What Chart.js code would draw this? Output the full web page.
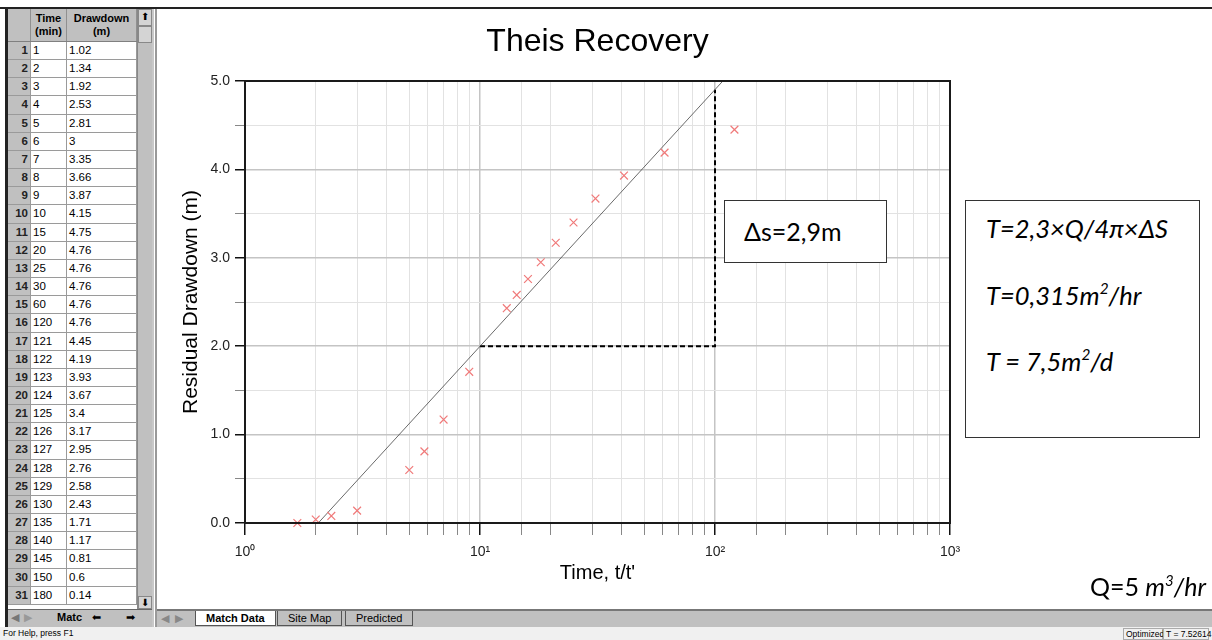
<!DOCTYPE html>
<html>
<head>
<meta charset="utf-8">
<script src="https://cdn.jsdelivr.net/npm/chart.js@4"></script>
<style>
body {margin: 0; width: 1212px; height: 640px; position: relative; overflow: hidden; background: #fff; font-family: "Liberation Sans", Arial, sans-serif;}
.abs {position: absolute;}
#topline {left: 0; top: 7px; width: 1212px; height: 2px; background: #222;}
#leftline {left: 5px; top: 9px; width: 3px; height: 618px; background: #222;}
#grid {left: 8px; top: 9px; width: 129px; font-size: 11px; color: #000;}
#grid .hdr {display: flex; height: 33px; background: #c0c0c0; border-bottom: 1px solid #808080; box-sizing: border-box; font-weight: bold;}
#grid .hdr div {text-align: center; line-height: 13px; padding-top: 3px; box-sizing: border-box; border-right: 1px solid #909090;}
#grid .row {display: flex; height: 18.17px; box-sizing: border-box; border-bottom: 1px solid #9a9a9a;}
#grid .row div {box-sizing: border-box; line-height: 17px; padding-left: 2px; border-right: 1px solid #9a9a9a; background: #fff; font-size: 11.5px;}
#grid .row div.num {background: #c0c0c0; font-weight: bold; text-align: right; padding-right: 2px; color: #222;}
.c0 {width: 23px;} .c1 {width: 36px;} .c2 {width: 70px;}
#vscroll {left: 137px; top: 9px; width: 15px; height: 600px; background: #c0c0c0; border-left: 1px solid #888; box-sizing: border-box;}
.btn {position: absolute; background: #d4d4d4; border: 1px solid #888; box-sizing: border-box; font-size: 10px; text-align: center; line-height: 14px;}
#divider {left: 152px; top: 9px; width: 5px; height: 618px; background: #fff; border-left: 2px solid #c8c8c8; border-right: 2px solid #999; box-sizing: border-box;}
#ltabs {left: 8px; top: 609px; width: 144px; height: 18px; background: #c0c0c0; border-top: 1px solid #666; box-sizing: border-box; font-size: 11px;}
#tabs {left: 157px; top: 609px; width: 1055px; height: 18px; background: #c0c0c0; border-top: 2px solid #777; box-sizing: border-box; font-size: 11px;}
.tab {position: absolute; top: 0; height: 15px; line-height: 15px; padding: 0 10px; border-bottom: 1px solid #555; border-left: 1px solid #555; border-right: 1px solid #555; box-sizing: border-box;}
#status {left: 0; top: 627px; width: 1212px; height: 13px; background: #f0f0f0; font-size: 8.5px; line-height: 13px;}
.sbox {position: absolute; top: 1px; height: 12px; border: 1px solid #aaa; box-sizing: border-box; font-size: 8.5px; line-height: 10px; padding: 0 2px; white-space: nowrap;}
#plot {left: 158px; top: 10px;}
#title {left: 245px; width: 705px; top: 20px; text-align: center; font-size: 32px; line-height: 40px; color: #000;}
.note {font-family: Lato, "Open Sans", sans-serif; color: #000;}
#dsbox {left: 724px; top: 200px; width: 163px; height: 63px; border: 1px solid #333; background: #fff; box-sizing: border-box; font-size: 25px; line-height: 60px; padding-left: 19px;}
#tbox {left: 965px; top: 200px; width: 235px; height: 238px; border: 1px solid #333; background: #fff; box-sizing: border-box; font-size: 25.5px; font-style: italic;}
#tbox div {position: absolute; left: 20px;}
#qtext {left: 1000px; width: 206px; top: 569px; text-align: right; font-size: 25px; line-height: 34px;}
sup {font-size: 0.6em; vertical-align: 0.7em; line-height: 0;}
</style>
</head>
<body>
<div class="abs" id="topline"></div>
<div class="abs" id="grid"></div>
<div class="abs" id="leftline"></div>
<div class="abs" id="vscroll">
	<div class="btn" style="left:0;top:0;width:14px;height:17px">&#x2B06;</div>
	<div class="btn" style="left:0;top:17px;width:14px;height:17px"></div>
	<div class="btn" style="left:0;top:587px;width:14px;height:13px;line-height:11px">&#x2B07;</div>
</div>
<div class="abs" id="divider"></div>
<div class="abs" id="ltabs">
	<span style="position:absolute;left:3px;top:1px;color:#777">&#x25C0;</span>
	<span style="position:absolute;left:16px;top:1px;color:#999">&#x25B6;</span>
	<span style="position:absolute;left:49px;top:1px;font-weight:bold">Matc</span>
	<span style="position:absolute;left:84px;top:1px">&#x2B05;</span>
	<span style="position:absolute;left:118px;top:1px">&#x27A1;</span>
</div>
<div class="abs" id="tabs">
	<span style="position:absolute;left:4px;top:1px;color:#888">&#x25C0;</span>
	<span style="position:absolute;left:18px;top:1px;color:#888">&#x25B6;</span>
	<div class="tab" style="left:38px;background:#fff;font-weight:bold">Match Data</div>
	<div class="tab" style="left:120px">Site Map</div>
	<div class="tab" style="left:188px">Predicted</div>
</div>
<div class="abs" id="status">
	<span style="position:absolute;left:3px">For Help, press F1</span>
	<div class="sbox" style="left:1123px;width:40px">Optimized</div>
	<div class="sbox" style="left:1163px;width:46px">T = 7.52614</div>
</div>
<canvas class="abs" id="plot" width="1054" height="597"></canvas>
<div class="abs" id="title">Theis Recovery</div>
<div class="abs note" id="dsbox">Δs=2,9m</div>
<div class="abs note" id="tbox">
	<div style="top:12px">T=2,3×Q/4π×ΔS</div>
	<div style="top:79px">T=0,315m<sup>2</sup>/hr</div>
	<div style="top:145px">T = 7,5m<sup>2</sup>/d</div>
</div>
<div class="abs note" id="qtext">Q=5 <i>m<sup>3</sup>/hr</i></div>
<script>
//Pumping test table (left panel)
const tableTime = ["1", "2", "3", "4", "5", "6", "7", "8", "9", "10", "15", "20", "25", "30", "60", "120",
	"121", "122", "123", "124", "125", "126", "127", "128", "129", "130", "135", "140", "145", "150", "180"];
const tableDrawdown = ["1.02", "1.34", "1.92", "2.53", "2.81", "3", "3.35", "3.66", "3.87", "4.15", "4.75", "4.76", "4.76", "4.76", "4.76", "4.76",
	"4.45", "4.19", "3.93", "3.67", "3.4", "3.17", "2.95", "2.76", "2.58", "2.43", "1.71", "1.17", "0.81", "0.6", "0.14"];

//Recovery plot: t/t' against residual drawdown
const ratioTT = [121, 61, 41, 31, 25, 21, 18.14, 16, 14.33, 13, 9, 7, 5.8, 5, 3, 2.33, 2, 1.67];
const residual = [4.45, 4.19, 3.93, 3.67, 3.4, 3.17, 2.95, 2.76, 2.58, 2.43, 1.71, 1.17, 0.81, 0.6, 0.14, 0.08, 0.04, 0];
//Straight-line match
const fitX = [2.05, 108];
const fitY = [0, 5];
//Construction lines for delta s over one log cycle
const deltaX = [10, 100, 100];
const deltaY = [2.0, 2.0, 4.9];
const xTickLabels = {1: "10⁰", 10: "10¹", 100: "10²", 1000: "10³"};

const grid = document.getElementById("grid");
grid.innerHTML = '<div class="hdr"><div class="c0"></div><div class="c1">Time<br>(min)</div><div class="c2">Drawdown<br>(m)</div></div>'
	+ tableTime.map((t, i) => '<div class="row"><div class="c0 num">' + (i + 1) + '</div><div class="c1">' + t
		+ '</div><div class="c2">' + tableDrawdown[i] + '</div></div>').join("");

const pts = (xs, ys) => xs.map((x, i) => ({x, y: ys[i]}));
const isDecade = v => Math.abs(Math.log10(v) - Math.round(Math.log10(v))) < 1e-6;

//Heavy box round the plot area
const frame = {
	id: "frame",
	afterDraw(chart) {
		const {ctx, chartArea: a} = chart;
		ctx.save();
		ctx.strokeStyle = "#1a1a1a";
		ctx.lineWidth = 2;
		ctx.strokeRect(a.left, a.top, a.right - a.left, a.bottom - a.top);
		ctx.restore();
	},
};

const font = {family: "'Liberation Sans', Arial, sans-serif"};
new Chart(document.getElementById("plot"), {
	type: "scatter",
	data: {datasets: [
		{
			label: "Observed", data: pts(ratioTT, residual),
			pointStyle: "crossRot", pointRadius: 5.5, borderColor: "#f07a7a", borderWidth: 1.2, clip: false,
		},
		{
			type: "line", label: "Match", data: pts(fitX, fitY),
			borderColor: "#444", borderWidth: 0.8, pointRadius: 0,
		},
		{
			type: "line", label: "Delta s", data: pts(deltaX, deltaY),
			borderColor: "#000", borderWidth: 2, borderDash: [5, 3], pointRadius: 0,
		},
	]},
	options: {
		responsive: false,
		animation: false,
		layout: {padding: {top: 71, right: 262, bottom: 22, left: 0}},
		plugins: {legend: {display: false}, tooltip: {enabled: false}},
		scales: {
			x: {
				type: "logarithmic", min: 1, max: 1000,
				afterFit: s => {s.height = 62;},
				border: {display: false},
				grid: {
					color: c => isDecade(c.tick.value) ? "#c4c4c4" : "#e2e2e2",
					lineWidth: c => isDecade(c.tick.value) ? 1.5 : 1,
					tickColor: c => isDecade(c.tick.value) ? "#111" : "#888",
					tickLength: 12,
				},
				ticks: {
					autoSkip: false, maxRotation: 0, padding: 9, color: "#222",
					font: {...font, size: 14},
					callback: v => isDecade(v) ? xTickLabels[Math.round(v)] : "",
				},
				title: {display: true, text: "Time, t/t'", color: "#000", font: {...font, size: 20}, padding: 0},
			},
			y: {
				min: 0, max: 5,
				afterFit: s => {s.width = 87;},
				border: {display: false},
				grid: {
					color: c => c.tick.value % 1 === 0 ? "#c4c4c4" : "#e2e2e2",
					lineWidth: c => c.tick.value % 1 === 0 ? 1.5 : 1,
					tickColor: c => c.tick.value % 1 === 0 ? "#111" : "#888",
					tickLength: 10,
				},
				ticks: {
					stepSize: 0.5, padding: 5, color: "#222",
					font: {...font, size: 14},
					callback: v => v % 1 === 0 ? v.toFixed(1) : "",
				},
				title: {display: true, text: "Residual Drawdown (m)", color: "#000", font: {...font, size: 21}, padding: {top: 21, bottom: 0}},
			},
		},
	},
	plugins: [frame],
});
</script>
</body>
</html>
